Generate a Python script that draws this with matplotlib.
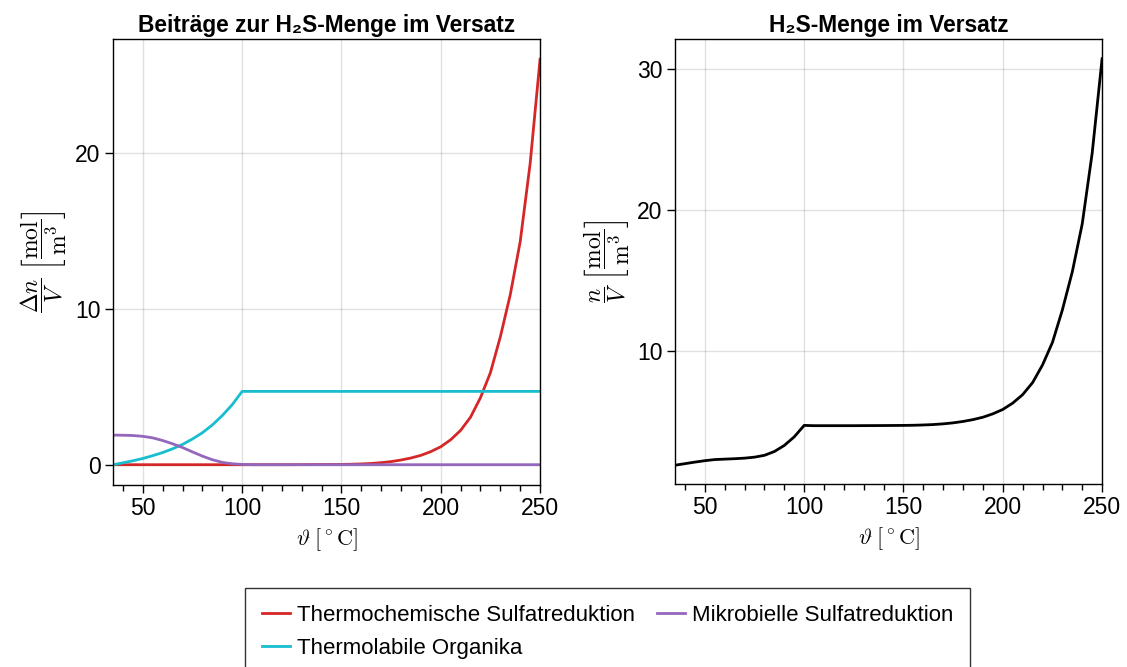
import numpy as np
import matplotlib
matplotlib.use("Agg")
import matplotlib.pyplot as plt
from matplotlib.ticker import MultipleLocator

plt.rcParams['font.family'] = ['Liberation Sans', 'DejaVu Sans']
plt.rcParams['mathtext.fontset'] = 'cm'

# temperature grid [°C], steps of 5 from 35 to 250
temp = list(range(35, 251, 5))

# contributions [mol/m3]
tsr = [0] * 19 + [0.005, 0.007, 0.01, 0.015, 0.02, 0.03, 0.05, 0.08, 0.13, 0.2,
                  0.3, 0.43, 0.6, 0.84, 1.15, 1.6, 2.2, 3.05, 4.3, 5.9,
                  8.2, 10.9, 14.3, 19.3, 26.0]
organika = [0, 0.12, 0.25, 0.4, 0.58, 0.78, 1.02, 1.3, 1.65, 2.05, 2.55, 3.15, 3.85, 4.7] + [4.7] * 30
msr = [1.9, 1.89, 1.87, 1.82, 1.72, 1.55, 1.34, 1.1, 0.82, 0.55, 0.32, 0.15, 0.06, 0.02] + [0] * 30

# total amount [mol/m3]
total = [1.9, 2.01, 2.12, 2.22, 2.30, 2.33, 2.36, 2.40, 2.47, 2.60, 2.87, 3.30, 3.91, 4.72,
         4.70, 4.70, 4.70, 4.70, 4.70,
         4.705, 4.707, 4.71, 4.715, 4.72, 4.73, 4.75, 4.78, 4.83, 4.90,
         5.00, 5.13, 5.30, 5.54, 5.85, 6.30, 6.90, 7.75, 9.00, 10.6,
         12.9, 15.6, 19.0, 24.0, 30.7]

labels = ["Thermochemische Sulfatreduktion", "Thermolabile Organika", "Mikrobielle Sulfatreduktion"]
colors = ["#d62728", "#17becf", "#9467bd"]

fig = plt.figure(figsize=(11.27, 6.67), dpi=100)
ax1 = fig.add_axes([0.1003, 0.2729, 0.3789, 0.6687])
ax2 = fig.add_axes([0.599, 0.2744, 0.3789, 0.6672])

lines = []
for vals, lab, col in zip([tsr, organika, msr], labels, colors):
    l, = ax1.plot(temp, vals, color=col, lw=2.0, label=lab)
    lines.append(l)
ax2.plot(temp, total, color="black", lw=2.0)

ax1.set_ylim(-1.3, 27.3)
ax2.set_ylim(0.57, 32.1)
ax1.set_yticks([0, 10, 20])
ax2.set_yticks([10, 20, 30])

for ax in (ax1, ax2):
    ax.set_xlim(35, 250)
    ax.xaxis.set_major_locator(MultipleLocator(50))
    ax.xaxis.set_minor_locator(MultipleLocator(10))
    ax.grid(True, which="major", color="black", alpha=0.12, lw=1)
    ax.set_axisbelow(True)
    ax.tick_params(which="major", direction="out", length=6, width=1, labelsize=16.5, pad=3)
    ax.tick_params(axis="x", which="minor", direction="out", length=4, width=1)
    ax.tick_params(axis="y", which="minor", left=False)
    for s in ax.spines.values():
        s.set_linewidth(1)
    ax.set_xlabel(r"$\vartheta\;[^\circ\mathrm{C}]$", fontsize=16, labelpad=4)

ax1.set_ylabel(r"$\dfrac{\Delta n}{V}\;\left[\dfrac{\mathrm{mol}}{\mathrm{m}^3}\right]$", fontsize=17, labelpad=4)
ax2.set_ylabel(r"$\dfrac{n}{V}\;\left[\dfrac{\mathrm{mol}}{\mathrm{m}^3}\right]$", fontsize=17, labelpad=4)

ax1.set_title("Beiträge zur H₂S-Menge im Versatz", fontsize=16.4, fontweight="bold", pad=5)
ax2.set_title("H₂S-Menge im Versatz", fontsize=16.4, fontweight="bold", pad=5)

leg = fig.legend(handles=lines, loc="upper center", bbox_to_anchor=(0.539, 1 - 588 / 667), ncol=2,
                 fontsize=16, frameon=True, fancybox=False, edgecolor="black",
                 handlelength=1.26, handletextpad=0.3, columnspacing=1.0,
                 borderpad=0.75, labelspacing=0.55, borderaxespad=0)
leg.get_frame().set_linewidth(1)

fig.savefig("out.png", dpi=100)
